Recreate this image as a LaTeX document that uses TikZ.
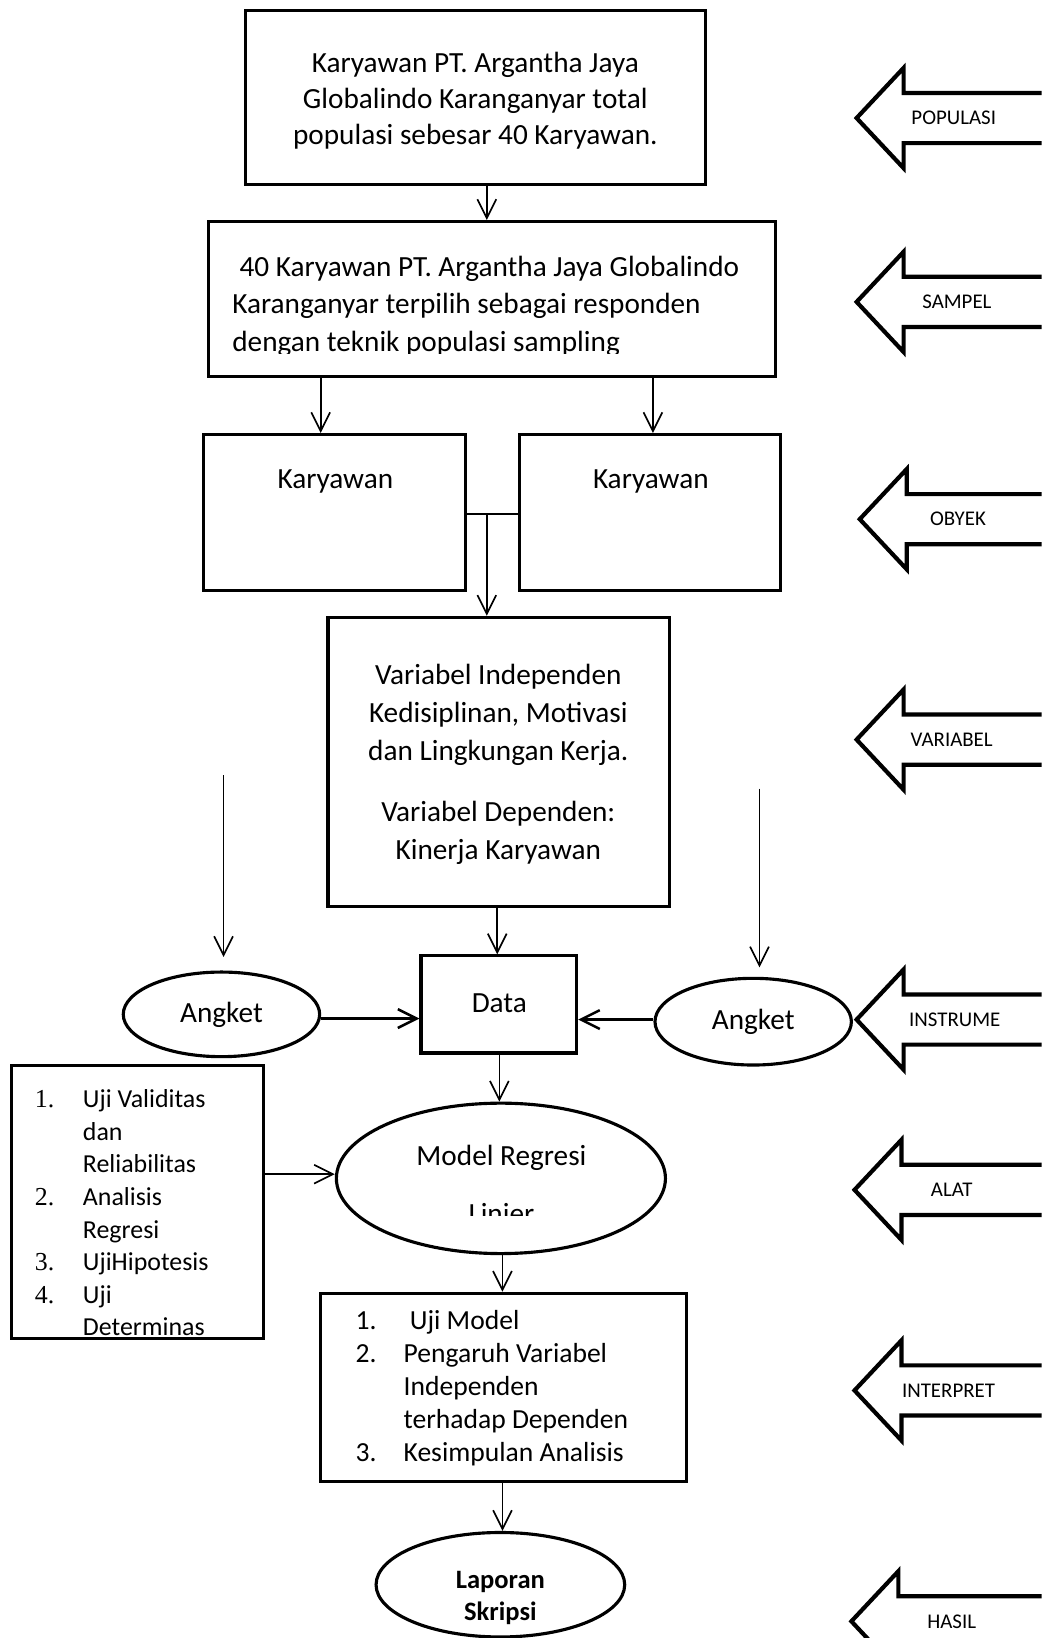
\documentclass[tikz,border=0pt]{standalone}
\usepackage{fontspec}
\setmainfont{Carlito}
\newfontfamily\numfont{Liberation Serif}
\usetikzlibrary{arrows.meta,shapes.geometric}
\begin{document}
\begin{tikzpicture}[x=0.5pt,y=-0.5pt,
  box/.style={draw,line width=1.5pt,inner sep=0pt},
  oval/.style={draw,ellipse,line width=1.5pt,inner sep=0pt},
  arr/.style={line width=0.8pt,-{Straight Barb[length=9pt,width=9pt,line width=0.8pt]}},
  harr/.style={line width=1.2pt,-{Straight Barb[length=9pt,width=9pt,line width=1.2pt]}},
  blockarrow/.style={line width=2pt,line join=miter},
  txt/.style={inner sep=0pt,font=\fontsize{14}{18}\selectfont},
  lbl/.style={inner sep=0pt,font=\fontsize{10}{12}\selectfont}]
\clip (0,0) rectangle (997,1568);
\fill[white] (0,0) rectangle (997,1568);

% boxes
\node[box,minimum width=220pt,minimum height=83.5pt] (b1) at (455,93.5) {};
\node[box,minimum width=271pt,minimum height=74pt] (b2) at (471,286) {};
\node[box,minimum width=125.5pt,minimum height=74.5pt] (b3a) at (320.5,490.5) {};
\node[box,minimum width=125pt,minimum height=74.5pt] (b3b) at (622,490.5) {};
\node[box,minimum width=163.5pt,minimum height=138.5pt] (b4) at (477.5,729.5) {};
\node[box,minimum width=74.5pt,minimum height=46.5pt] (data) at (477.5,961.5) {};
\node[oval,minimum width=94pt,minimum height=40.5pt] (angL) at (212,971) {};
\node[oval,minimum width=94pt,minimum height=41.5pt] (angR) at (721,978) {};
\node[oval,minimum width=157.5pt,minimum height=72pt] (model) at (479.5,1128) {};
\node[box,minimum width=120.5pt,minimum height=130.5pt] (listL) at (131.5,1150.5) {};
\node[box,minimum width=175pt,minimum height=90pt] (res) at (482,1328) {};
\node[oval,minimum width=119pt,minimum height=50pt] (lap) at (479,1517) {};

% texts
\node[txt,align=center,font=\fontsize{14}{17.25}\selectfont] (t1) at (455,96.5)
  {Karyawan PT. Argantha Jaya\\Globalindo Karanganyar total\\populasi sebesar 40 Karyawan.};
\begin{scope}
\clip (200,212) rectangle (742,338);
\node[txt,anchor=west,align=left] (t2) at (222,293)
  {\hspace*{3.5pt}40 Karyawan PT. Argantha Jaya Globalindo\\Karanganyar terpilih sebagai responden\\dengan teknik populasi sampling};
\end{scope}
\node[txt] (t3a) at (321,460.5) {Karyawan};
\node[txt] (t3b) at (623,460.5) {Karyawan};
\node[txt,align=center,font=\fontsize{14}{18.25}\selectfont] (t4a) at (477,684)
  {Variabel Independen\\Kedisiplinan, Motivasi\\dan Lingkungan Kerja.};
\node[txt,align=center,font=\fontsize{14}{18.25}\selectfont] (t4b) at (477,797)
  {Variabel Dependen:\\Kinerja Karyawan};
\node[txt] (tdata) at (478,960) {Data};
\node[txt] (tangL) at (212,971) {Angket};
\node[txt] (tangR) at (721,978) {Angket};
\node[txt] (tmod) at (480,1108) {Model Regresi};
\begin{scope}
\clip (322,1140) rectangle (637,1164);
\node[txt] (tlin) at (480,1162) {Linier};
\end{scope}
\node[inner sep=0pt,anchor=west,align=left,font=\fontsize{12.4}{15.57}\selectfont] (tlist) at (33,1161)
  {\makebox[23pt][l]{\numfont 1.}Uji Validitas\\
   \hspace*{23pt}dan\\
   \hspace*{23pt}Reliabilitas\\
   \makebox[23pt][l]{\numfont 2.}Analisis\\
   \hspace*{23pt}Regresi\\
   \makebox[23pt][l]{\numfont 3.}UjiHipotesis\\
   \makebox[23pt][l]{\numfont 4.}Uji\\
   \hspace*{23pt}Determinas};
\node[inner sep=0pt,anchor=west,align=left,font=\fontsize{13.2}{15.75}\selectfont] (tres) at (340,1329)
  {\makebox[23pt][l]{1.}\hspace*{3pt}Uji Model\\
   \makebox[23pt][l]{2.}Pengaruh Variabel\\
   \hspace*{23pt}Independen\\
   \hspace*{23pt}terhadap Dependen\\
   \makebox[23pt][l]{3.}Kesimpulan Analisis};
\node[inner sep=0pt,align=center,font=\bfseries\fontsize{12.7}{15.5}\selectfont] (tlap) at (479,1529.5)
  {Laporan\\Skripsi};

% connectors
\coordinate (xa) at (466,0);
\coordinate (xb) at (307,0);
\coordinate (xc) at (625,0);
\coordinate (xd) at (476,0);
\coordinate (xe) at (478,0);
\coordinate (xf) at (481,0);
\coordinate (yj) at (0,492);
\coordinate (yl) at (0,1124);
\coordinate (yal) at (0,975);
\coordinate (yar) at (0,976);
\draw[arr] (b1.south -| xa) -- (b2.north -| xa);
\draw[arr] (b2.south -| xb) -- (b3a.north -| xb);
\draw[arr] (b2.south -| xc) -- (b3b.north -| xc);
\draw[line width=0.8pt] (b3a.east |- yj) -- (b3b.west |- yj);
\coordinate (jn) at (466,492);
\draw[arr] (jn) -- (b4.north -| jn);
\draw[arr] (b4.south -| xd) -- (data.north -| xd);
\draw[harr] (angL.east |- yal) -- (data.west |- yal);
\draw[harr] (angR.west |- yar) -- (data.east |- yar);
\draw[arr] (data.south -| xe) -- (model.north -| xe);
\draw[arr] (listL.east |- yl) -- (model.west |- yl);
\draw[arr] (model.south -| xf) -- (res.north -| xf);
\draw[arr] (res.south -| xf) -- (lap.north -| xf);
\coordinate (la) at (214,742);
\coordinate (lb) at (214,916);
\coordinate (ra) at (727,755);
\coordinate (rb) at (727,926);
\draw[arr] (la) -- (lb);
\draw[arr] (ra) -- (rb);

% block arrows
\foreach \tx/\c/\lx/\lab in {820/113/913/POPULASI,820/289/916/SAMPEL,823/497/917/OBYEK,820/708/911/VARIABEL,820/976/914/INSTRUME,818/1139/911/ALAT,818/1331/908/INTERPRET,815/1552/911/HASIL}{
  \draw[blockarrow] (1010,\c-24) -- (\tx+45,\c-24) -- (\tx+45,\c-48) -- (\tx,\c) -- (\tx+45,\c+48) -- (\tx+45,\c+24) -- (1010,\c+24);
  \node[lbl] (lab-\lab) at (\lx,\c) {\lab};
}
\end{tikzpicture}
\end{document}
